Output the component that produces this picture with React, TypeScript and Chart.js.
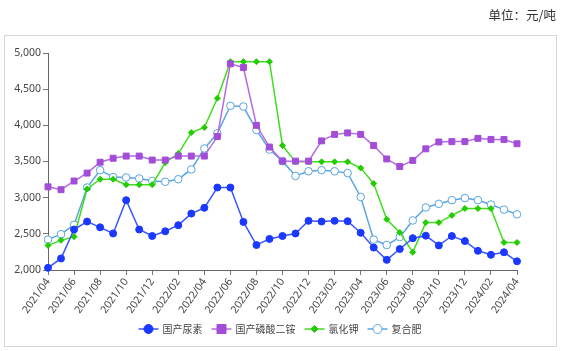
import React, { useEffect, useRef } from "react";
import { Chart, registerables } from "chart.js";

Chart.register(...registerables);

const months = [
  "2021/04", "2021/05", "2021/06", "2021/07", "2021/08", "2021/09", "2021/10", "2021/11", "2021/12",
  "2022/01", "2022/02", "2022/03", "2022/04", "2022/05", "2022/06", "2022/07", "2022/08", "2022/09",
  "2022/10", "2022/11", "2022/12", "2023/01", "2023/02", "2023/03", "2023/04", "2023/05", "2023/06",
  "2023/07", "2023/08", "2023/09", "2023/10", "2023/11", "2023/12", "2024/01", "2024/02", "2024/03",
  "2024/04",
];

const urea = [
  2030, 2160, 2560, 2670, 2590, 2505, 2965, 2560, 2470, 2535, 2620, 2780, 2860, 3140, 3140, 2665,
  2345, 2430, 2470, 2505, 2680, 2670, 2680, 2675, 2515, 2310, 2140, 2290, 2440, 2475, 2340, 2470,
  2400, 2265, 2210, 2245, 2120,
];

const dap = [
  3150, 3110, 3230, 3340, 3490, 3545, 3575, 3575, 3520, 3520, 3575, 3575, 3575, 3845, 4850, 4800,
  4000, 3700, 3505, 3505, 3505, 3785, 3875, 3895, 3875, 3720, 3535, 3430, 3515, 3675, 3770, 3775,
  3775, 3820, 3805, 3805, 3745,
];

const kcl = [
  2340, 2410, 2460, 3120, 3255, 3255, 3180, 3180, 3180, 3485, 3610, 3900, 3970, 4375, 4880, 4880,
  4880, 4880, 3720, 3495, 3495, 3495, 3495, 3495, 3410, 3195, 2700, 2520, 2245, 2655, 2655, 2755,
  2850, 2850, 2850, 2380, 2380,
];

const compound = [
  2420, 2495, 2625, 3140, 3380, 3285, 3280, 3265, 3230, 3220, 3255, 3390, 3680, 3890, 4270, 4260,
  3935, 3665, 3505, 3300, 3365, 3380, 3365, 3340, 3010, 2420, 2345, 2455, 2685, 2865, 2915, 2965,
  2995, 2965, 2905, 2835, 2770,
];

const seriesNames = ["国产尿素", "国产磷酸二铵", "氯化钾", "复合肥"];
const unitTitle = "单位：元/吨";

const styles = [
  { line: "#3b55ff", fill: "#1a38ff", border: "#1a38ff", shape: "circle", r: 3.5, lr: 4.5 },
  { line: "#b46ae2", fill: "#a24cd8", border: "#a24cd8", shape: "rect", r: 4.2, lr: 4.5 },
  { line: "#40dd1e", fill: "#22cc00", border: "#22cc00", shape: "rectRot", r: 3, lr: 3.5 },
  { line: "#5aa6e0", fill: "#ffffff", border: "#5aa6e0", shape: "circle", r: 3.8, lr: 4.5 },
];

const decorPlugin = {
  id: "decor",
  beforeDraw(chart: any) {
    const ctx = chart.ctx;
    ctx.save();
    ctx.fillStyle = "#ffffff";
    ctx.fillRect(0, 0, chart.width, chart.height);
    ctx.strokeStyle = "#d6d6d6";
    ctx.lineWidth = 1;
    ctx.strokeRect(4.5, 35.5, 552, 311);
    ctx.fillStyle = "#333333";
    ctx.font = '12.5px "Noto Sans CJK SC"';
    ctx.textAlign = "right";
    ctx.textBaseline = "middle";
    ctx.fillText(unitTitle, 556, 15);
    ctx.restore();
  },
  afterDraw(chart: any) {
    const ctx = chart.ctx;
    ctx.save();
    ctx.font = '10px "Noto Sans CJK SC"';
    ctx.textBaseline = "middle";
    ctx.textAlign = "left";
    const iconW = 20;
    const gapIT = 4;
    const gapItem = 9;
    const widths = seriesNames.map((n) => ctx.measureText(n).width);
    const total = widths.reduce((a, w) => a + iconW + gapIT + w, 0) + gapItem * (seriesNames.length - 1);
    let x = 280 - total / 2;
    const y = 329;
    seriesNames.forEach((name, i) => {
      const s = styles[i];
      ctx.strokeStyle = s.line;
      ctx.lineWidth = 1.5;
      ctx.beginPath();
      ctx.moveTo(x, y);
      ctx.lineTo(x + iconW, y);
      ctx.stroke();
      const cx = x + iconW / 2;
      ctx.fillStyle = s.fill;
      ctx.strokeStyle = s.border;
      ctx.lineWidth = 1;
      ctx.beginPath();
      if (s.shape === "circle") {
        ctx.arc(cx, y, s.lr, 0, Math.PI * 2);
      } else if (s.shape === "rect") {
        ctx.rect(cx - s.lr, y - s.lr, s.lr * 2, s.lr * 2);
      } else {
        ctx.moveTo(cx, y - s.lr);
        ctx.lineTo(cx + s.lr, y);
        ctx.lineTo(cx, y + s.lr);
        ctx.lineTo(cx - s.lr, y);
        ctx.closePath();
      }
      ctx.fill();
      ctx.stroke();
      ctx.fillStyle = "#444444";
      ctx.fillText(name, x + iconW + gapIT, y);
      x += iconW + gapIT + widths[i] + gapItem;
    });
    ctx.restore();
  },
};

export default function App() {
  const ref = useRef<HTMLCanvasElement | null>(null);
  useEffect(() => {
    if (!ref.current) return;
    const data = [urea, dap, kcl, compound];
    const chart = new Chart(ref.current, {
      type: "line",
      data: {
        labels: months,
        datasets: data.map((d, i) => ({
          label: seriesNames[i],
          data: d,
          borderColor: styles[i].line,
          backgroundColor: styles[i].fill,
          pointBackgroundColor: styles[i].fill,
          pointBorderColor: styles[i].border,
          pointBorderWidth: 1,
          pointStyle: styles[i].shape as any,
          pointRadius: styles[i].r,
          borderWidth: 1.5,
          tension: 0,
          clip: false as any,
          order: i === 0 ? -1 : i,
        })),
      },
      options: {
        responsive: false,
        animation: false,
        layout: { padding: { left: 4, right: 46, top: 53, bottom: 0 } },
        plugins: {
          legend: { display: false },
          title: { display: false },
          tooltip: { enabled: false },
        },
        scales: {
          x: {
            offset: false,
            grid: { display: true, drawOnChartArea: false, drawTicks: true, tickLength: 5, color: "#777777" },
            border: { display: true, color: "#666666", width: 1 },
            ticks: {
              autoSkip: false,
              minRotation: 55,
              maxRotation: 55,
              padding: 1,
              color: "#444444",
              font: { family: '"Noto Sans", sans-serif', size: 10.5 },
              callback: function (this: any, _v: any, idx: number) {
                return idx % 2 === 0 ? months[idx] : null;
              },
            },
            afterFit: (s: any) => {
              s.height = 81;
            },
          },
          y: {
            min: 2000,
            max: 5000,
            grid: { display: true, drawOnChartArea: false, drawTicks: true, tickLength: 5, color: "#777777" },
            border: { display: true, color: "#666666", width: 1 },
            ticks: {
              stepSize: 500,
              padding: 2,
              color: "#444444",
              font: { family: '"Noto Sans", sans-serif', size: 10.5 },
              callback: (v: any) => Number(v).toLocaleString("en-US"),
            },
            afterFit: (s: any) => {
              s.width = 44;
            },
          },
        },
      },
      plugins: [decorPlugin],
    });
    return () => chart.destroy();
  }, []);
  return (
    <div style={{ position: "fixed", left: 0, top: 0, width: 563, height: 351, background: "#fff" }}>
      <canvas ref={ref} width={563} height={351} style={{ display: "block" }} />
    </div>
  );
}
